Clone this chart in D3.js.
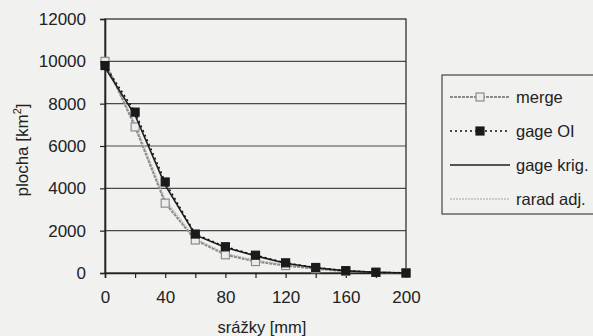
<!DOCTYPE html>
<html><head><meta charset="utf-8">
<script src="https://cdn.jsdelivr.net/npm/d3@7"></script>
<style>body{margin:0;background:#f1f1ef;}svg{display:block;font-family:"Liberation Sans",Arial,sans-serif;}</style>
</head><body>
<svg id="c" width="593" height="336"></svg>
<script>
const xValues = [0,20,40,60,80,100,120,140,160,180,200];
const merge = [10000,6900,3300,1560,860,540,350,200,80,30,0];
const gageOI = [9800,7600,4300,1840,1240,840,480,260,110,35,0];
const gageKrig = [9700,7450,4150,1800,1200,810,460,250,100,30,0];
const raradAdj = [9900,7050,3450,1620,920,600,390,220,85,30,0];
const xTicks = [0,20,40,60,80,100,120,140,160,180,200];
const xTickLabels = [0,40,80,120,160,200];
const yTicks = [0,2000,4000,6000,8000,10000,12000];
const seriesNames = ["merge","gage OI","gage krig.","rarad adj."];

const svg = d3.select("#c");
const L=105,R=406,T=19,B=273;
const x = d3.scaleLinear().domain([0,200]).range([L,R]);
const y = d3.scaleLinear().domain([0,12000]).range([B,T]);

// gridlines
svg.append("g").selectAll("line").data(yTicks.filter(v=>v>0&&v<12000)).join("line")
  .attr("x1",L).attr("x2",R).attr("y1",d=>y(d)).attr("y2",d=>y(d))
  .attr("stroke","#4a4a4a").attr("stroke-width",1.2);
// border
svg.append("rect").attr("x",L).attr("y",T).attr("width",R-L).attr("height",B-T)
  .attr("fill","none").attr("stroke","#333").attr("stroke-width",1.3);

// axes
const yAxis = d3.axisLeft(y).tickValues(yTicks).tickSize(5).tickPadding(14).tickFormat(d3.format("d"));
const gy = svg.append("g").attr("transform",`translate(${L},0)`).call(yAxis);
const xAxis = d3.axisBottom(x).tickValues(xTicks).tickSize(5).tickPadding(13)
  .tickFormat(d=>xTickLabels.includes(d)?String(d):"");
const gx = svg.append("g").attr("transform",`translate(0,${B})`).call(xAxis);
[gx,gy].forEach(g=>{
  g.select(".domain").attr("stroke","#222").attr("stroke-width",1.6);
  g.selectAll(".tick line").attr("stroke","#222").attr("stroke-width",1.2);
  g.selectAll("text").style("font-size","17px").attr("fill","#222").style("font-family","Liberation Sans, Arial, sans-serif");
});

// axis titles
svg.append("text").attr("x",262).attr("y",333).attr("text-anchor","middle")
  .style("font-size","16.5px").attr("fill","#222").text("srážky [mm]");
const yt = svg.append("text").attr("transform","translate(28,150) rotate(-90)")
  .attr("text-anchor","middle").style("font-size","17px").attr("fill","#222");
yt.append("tspan").text("plocha [km");
yt.append("tspan").style("font-size","11px").attr("dy",-7).text("2");
yt.append("tspan").attr("dy",7).text("]");

const series = [
  {name:seriesNames[3], vals:raradAdj, stroke:"#bdbdbd", w:1.6, dash:"2,1", marker:null},
  {name:seriesNames[0], vals:merge, stroke:"#8c8c8c", w:2, dash:"3,1", marker:"open"},
  {name:seriesNames[2], vals:gageKrig, stroke:"#1e1e1e", w:1.6, dash:null, marker:null},
  {name:seriesNames[1], vals:gageOI, stroke:"#111", w:1.5, dash:"2,3", marker:"filled"}
];
const line = d3.line().x((d,i)=>x(xValues[i])).y(d=>y(d));
series.forEach(s=>{
  svg.append("path").attr("d",line(s.vals)).attr("fill","none")
    .attr("stroke",s.stroke).attr("stroke-width",s.w).attr("stroke-dasharray",s.dash);
  if(s.marker){
    svg.append("g").selectAll("rect").data(s.vals).join("rect")
      .attr("x",(d,i)=>x(xValues[i])-4).attr("y",d=>y(d)-4).attr("width",8).attr("height",8)
      .attr("fill",s.marker==="filled"?"#1a1a1a":"#ececec")
      .attr("stroke",s.marker==="filled"?"#1a1a1a":"#8c8c8c").attr("stroke-width",1.2);
  }
});

// legend
const lg = svg.append("g");
lg.append("rect").attr("x",442).attr("y",75).attr("width",170).attr("height",139)
  .attr("fill","#f1f1ef").attr("stroke","#444").attr("stroke-width",1.2);
const legendOrder = [series[1],series[3],series[2],series[0]];
legendOrder.forEach((s,i)=>{
  const yy = 97 + i*34;
  lg.append("line").attr("x1",450).attr("x2",510).attr("y1",yy).attr("y2",yy)
    .attr("stroke",s.stroke).attr("stroke-width",s.w).attr("stroke-dasharray",s.dash);
  if(s.marker){
    lg.append("rect").attr("x",476).attr("y",yy-4).attr("width",8).attr("height",8)
      .attr("fill",s.marker==="filled"?"#1a1a1a":"#ececec")
      .attr("stroke",s.marker==="filled"?"#1a1a1a":"#8c8c8c").attr("stroke-width",1.2);
  }
  lg.append("text").attr("x",516).attr("y",yy+6).style("font-size","16.5px").attr("fill","#222").text(s.name);
});
</script>
</body></html>
